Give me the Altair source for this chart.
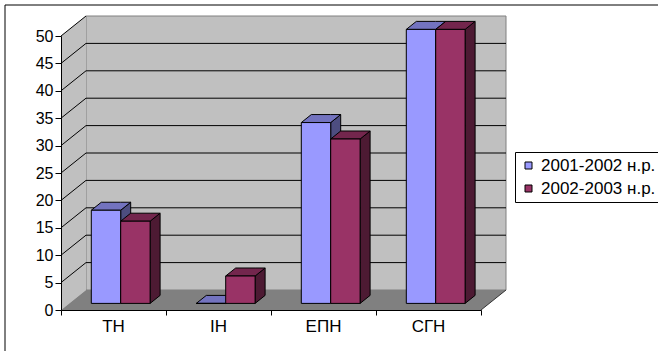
import altair as alt
import pandas as pd

# ---------------- data ----------------
CATEGORIES = ["ТН", "ІН", "ЕПН", "СГН"]
SERIES = ["2001-2002 н.р.", "2002-2003 н.р."]
VALUES_2001 = [17, 0, 33, 50]
VALUES_2002 = [15, 5, 30, 50]
Y_TICKS = [0, 5, 10, 15, 20, 25, 30, 35, 40, 45, 50]

# ---------------- style ----------------
FRONT = ["#9999FF", "#993366"]
TOP = ["#7373BF", "#73264D"]
SIDE = ["#4D4D80", "#4D1A33"]
WALL = "#C0C0C0"
FLOOR = "#808080"
EDGE = "#808080"
FONT = "Liberation Sans"

W, H = 420, 274
N = len(CATEGORIES)
YMAX = Y_TICKS[-1]
WALL_DX_PX, WALL_DY_PX = 25, 20
wdx = WALL_DX_PX / (W / N)          # depth shift in x data units
wdy = WALL_DY_PX / (H / YMAX)       # depth shift in y data units
Z1, Z2 = 0.33, 0.73                 # bar front/back depth (fraction of wall depth)
BAR_START = 0.21
BAR_W = 0.28

values = [VALUES_2001, VALUES_2002]

front_rows, top_rows, side_rows = [], [], []
for i, cat in enumerate(CATEGORIES):
    for j, s in enumerate(SERIES):
        v = values[j][i]
        x0 = i + BAR_START + j * BAR_W + Z1 * wdx
        x1 = x0 + BAR_W
        yb = Z1 * wdy
        yt = v + Z1 * wdy
        ddx = (Z2 - Z1) * wdx
        ddy = (Z2 - Z1) * wdy
        bid = f"{i}-{j}"
        front_rows.append(dict(series=s, cat=cat, x0=x0, x1=x1, yb=yb, yt=yt))
        for xx, ya, yb2 in [(x0, yt, yt), (x0 + ddx, yt, yt + ddy),
                            (x1, yt, yt + ddy), (x1 + ddx, yt + ddy, yt + ddy)]:
            top_rows.append(dict(id=bid, color=TOP[j], x=xx, y=ya, y2=yb2))
        for xx, ya, yb2 in [(x1, yb, yt), (x1 + ddx, yb + ddy, yt + ddy)]:
            side_rows.append(dict(id=bid, color=SIDE[j], x=xx, y=ya, y2=yb2))

front_df = pd.DataFrame(front_rows)
top_df = pd.DataFrame(top_rows)
side_df = pd.DataFrame(side_rows)

XS = alt.Scale(domain=[0, N], nice=False, zero=False)
YS = alt.Scale(domain=[0, YMAX], nice=False)
X_AXIS = alt.Axis(values=list(range(N + 1)), labels=False, title=None, grid=False,
                  tickSize=5, tickColor="black", domainColor="black", zindex=1)
Y_AXIS = alt.Axis(values=Y_TICKS, title=None, grid=False, tickSize=6, tickColor="black",
                  domainColor="black", labelFont=FONT, labelFontSize=16,
                  labelColor="black", labelPadding=2, zindex=1)


def X(field):
    return alt.X(field, type="quantitative", scale=XS, axis=X_AXIS)


def Y(field):
    return alt.Y(field, type="quantitative", scale=YS, axis=Y_AXIS)


one = pd.DataFrame({"a": [0]})

frame = alt.Chart(one).mark_rect(fillOpacity=0, stroke="black", strokeWidth=1).encode(
    x=alt.value(-56), x2=alt.value(W + 200), y=alt.value(-31), y2=alt.value(H + 100)
)

back_wall = alt.Chart(pd.DataFrame({"x": [wdx], "x2": [N + wdx], "y": [wdy], "y2": [YMAX + wdy]})).mark_rect(
    fill=WALL, stroke=EDGE, strokeWidth=1
).encode(x=X("x"), x2="x2", y=Y("y"), y2="y2")

left_wall = alt.Chart(pd.DataFrame({"x": [0, wdx], "y": [0, wdy], "y2": [YMAX, YMAX + wdy]})).mark_area(
    color=WALL, orient="vertical"
).encode(x=X("x"), y=Y("y"), y2="y2")

floor = alt.Chart(pd.DataFrame({
    "x": [0, wdx, N, N + wdx],
    "y": [0, 0, 0, wdy],
    "y2": [0, wdy, wdy, wdy],
})).mark_area(color=FLOOR, orient="vertical").encode(x=X("x"), y=Y("y"), y2="y2")

grid_back = alt.Chart(pd.DataFrame({"v": Y_TICKS[1:-1]})).transform_calculate(
    xa=f"{wdx}", xb=f"{N + wdx}", ya=f"datum.v + {wdy}"
).mark_rule(color="black", strokeWidth=1).encode(
    x=X("xa:Q"), x2="xb:Q", y=Y("ya:Q"), y2="ya:Q"
)

grid_side = alt.Chart(pd.DataFrame({"v": Y_TICKS[1:]})).transform_calculate(
    xa="0", xb=f"{wdx}", yb=f"datum.v + {wdy}"
).mark_rule(color="black", strokeWidth=1).encode(
    x=X("xa:Q"), x2="xb:Q", y=Y("v:Q"), y2="yb:Q"
)

floor_edge = alt.Chart(pd.DataFrame({"x": [N], "x2": [N + wdx], "y": [0], "y2": [wdy]})).mark_rule(
    color="#333333", strokeWidth=1
).encode(x=X("x"), x2="x2", y=Y("y"), y2="y2")

sides = alt.Chart(side_df).mark_area(orient="vertical", stroke="black", strokeWidth=1).encode(
    x=X("x"), y=Y("y"), y2="y2", detail="id:N", color=alt.Color("color:N", scale=None)
)

tops = alt.Chart(top_df).mark_area(orient="vertical", stroke="black", strokeWidth=1).encode(
    x=X("x"), y=Y("y"), y2="y2", detail="id:N", color=alt.Color("color:N", scale=None)
)

fronts = alt.Chart(front_df).mark_rect(stroke="black", strokeWidth=1).encode(
    x=X("x0"), x2="x1", y=Y("yb"), y2="yt",
    color=alt.Color("series:N", scale=alt.Scale(domain=SERIES, range=FRONT),
                    legend=alt.Legend(title=None, orient="none", legendX=454, legendY=116,
                                      strokeColor="black", fillColor="white", padding=5,
                                      symbolType="square", symbolSize=49,
                                      symbolStrokeColor="black", symbolStrokeWidth=1,
                                      labelFont=FONT, labelFontSize=17, labelColor="black",
                                      rowPadding=5, labelOffset=4)),
)

labels = alt.Chart(pd.DataFrame({"cat": CATEGORIES, "pos": [i + 0.5 for i in range(N)]})).mark_text(
    font=FONT, fontSize=17, color="black", baseline="middle"
).encode(x=X("pos"), y=alt.value(H + 17), text="cat:N")

chart = alt.layer(
    frame, back_wall, left_wall, floor, grid_back, grid_side, floor_edge,
    sides, tops, fronts, labels
).resolve_scale(color="independent").properties(
    width=W, height=H,
    autosize=alt.AutoSizeParams(type="none"),
    padding={"left": 61, "top": 36, "right": 177, "bottom": 41},
).configure_view(stroke=None).configure(background="white")

chart.save("out.html", embed_options={"renderer": "svg", "actions": False})
